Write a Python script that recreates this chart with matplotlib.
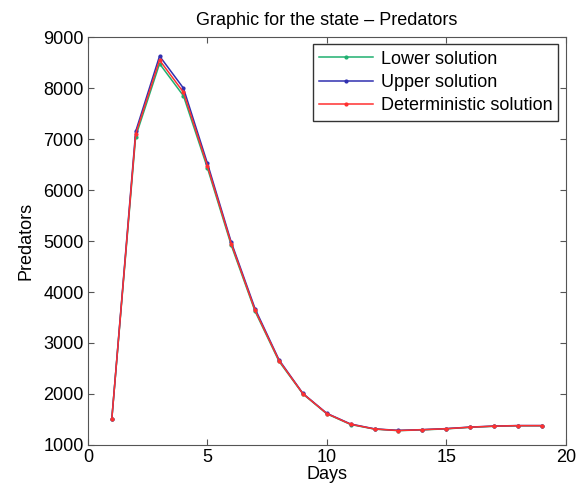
import matplotlib
matplotlib.use('Agg')
import matplotlib.pyplot as plt

plt.rcParams['font.family'] = ['Liberation Sans', 'DejaVu Sans']

days = list(range(1, 20))
lower = [1500, 7050, 8480, 7850, 6440, 4920, 3620, 2640, 2000, 1610, 1400, 1310, 1280, 1295, 1315, 1345, 1365, 1375, 1375]
upper = [1500, 7150, 8630, 8000, 6530, 4980, 3670, 2670, 2010, 1620, 1410, 1315, 1285, 1300, 1320, 1350, 1370, 1380, 1380]
determ = [1500, 7100, 8550, 7920, 6480, 4950, 3640, 2655, 2005, 1615, 1405, 1312, 1282, 1298, 1318, 1348, 1368, 1378, 1378]

fig = plt.figure(figsize=(5.82, 4.96), dpi=100)
ax = fig.add_axes([0.151, 0.103, 0.821, 0.822])

ax.plot(days, lower, '.-', color='#20b070', lw=1.1, ms=4, label='Lower solution')
ax.plot(days, upper, '.-', color='#3030b0', lw=1.1, ms=4, label='Upper solution')
ax.plot(days, determ, '.-', color='#ff3030', lw=1.1, ms=4, label='Deterministic solution')

ax.set_xlim(0, 20)
ax.set_ylim(1000, 9000)
ax.set_xticks([0, 5, 10, 15, 20])
ax.set_yticks(range(1000, 9001, 1000))
ax.tick_params(direction='in', labelsize=13, length=4, top=True, right=True,
               color='#555555', pad=3)
for s in ax.spines.values():
    s.set_color('#555555')
ax.set_xlabel('Days', fontsize=13, labelpad=0)
ax.set_ylabel('Predators', fontsize=13, labelpad=6)
ax.set_title('Graphic for the state \u2013 Predators', fontsize=13, pad=9)
leg = ax.legend(loc='upper right', fontsize=13, fancybox=False, framealpha=1,
                edgecolor='#333333', handlelength=3.0, borderaxespad=0.4,
                labelspacing=0.35, borderpad=0.35, handletextpad=0.4)

fig.savefig('out.png', dpi=100)
